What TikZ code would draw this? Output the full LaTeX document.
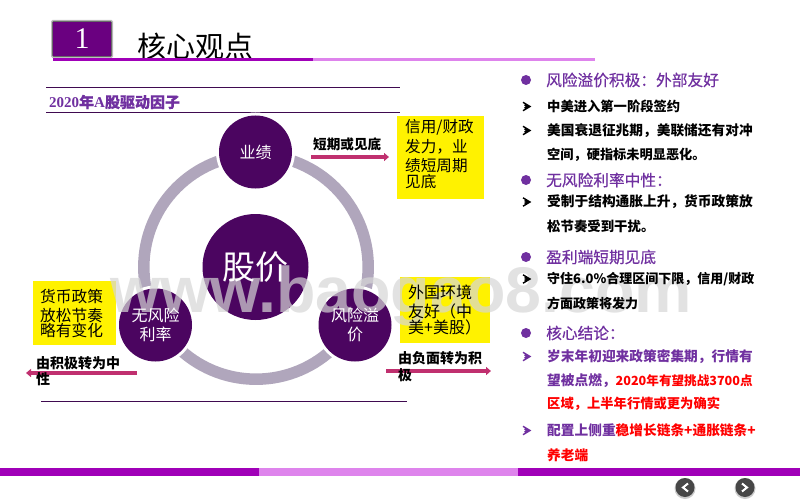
\documentclass[tikz,border=0pt]{standalone}
\usepackage{fontspec}
\setmainfont{Liberation Serif}
\newfontfamily\cjk{Noto Sans CJK SC}
\newfontfamily\cjkm[FakeBold=0.5]{Noto Sans CJK SC}
\newfontfamily\wmfont{Liberation Sans}
\usetikzlibrary{arrows.meta}
\newcommand{\fs}[1]{\fontsize{#1pt}{#1pt}\selectfont}
\definecolor{deep}{HTML}{4B0560}
\definecolor{titlep}{HTML}{6A0080}
\definecolor{barD}{HTML}{A000B8}
\definecolor{barL}{HTML}{DE84EC}
\definecolor{headp}{HTML}{7030A0}
\definecolor{ringc}{HTML}{B0A6BC}
\definecolor{arr}{HTML}{C0306F}
\definecolor{linec}{HTML}{3F0A50}
\definecolor{wmc}{HTML}{D6D6D6}
\tikzset{
  head/.style={anchor=west,inner sep=0pt,text=headp,font=\cjkm\fs{15.7}},
  body/.style={anchor=west,inner sep=0pt,text=black,font=\cjk\bfseries\fs{13.7}},
  bodyp/.style={body,text=headp},
  small/.style={anchor=west,inner sep=0pt,text=black,font=\cjk\bfseries\fs{13.6}},
  dot/.style={circle,fill=headp,inner sep=0pt,minimum size=10pt},
  chev/.style={draw=#1,line width=1.4pt,fill=none,line join=miter},
  ball/.style={circle,fill=deep,inner sep=0pt},
  balltext/.style={inner sep=0pt,text=white,align=center,font=\cjk\fs{16}},
  yel/.style={fill=yellow,inner sep=0pt},
  ytext/.style={anchor=north west,inner sep=0pt,align=left,text=black,font=\cjk\fs{15.7}},
  flow/.style={draw=arr,line width=3.2pt,-{Triangle[length=5pt,width=8pt]}},
  rule/.style={draw=linec,line width=0.8pt},
  navbtn/.style={circle,fill=black!72,inner sep=0pt,minimum size=19pt}
}
\newcommand{\chevron}[2]{\draw[chev=#1] (523,#2-4.2) -- (530,#2) -- (523,#2+4.2) (524.5,#2-1.5)--(527.5,#2)--(524.5,#2+1.5);}
\begin{document}
\begin{tikzpicture}[x=1pt,y=-1pt]
\useasboundingbox (0,0) rectangle (800,500);
\fill[white] (0,0) rectangle (800,500);
% title block
\foreach \d/\o in {2/.25,1/.45}{\fill[black,opacity=\o,rounded corners=1.5pt] (53-\d,22-\d) rectangle (111+\d,56+\d);}
\node[fill=titlep,minimum width=58pt,minimum height=34pt,inner sep=0pt,text=white,font=\fs{30}] (num) at (82,39) {\raisebox{-2pt}{1}};
\node[anchor=west,inner sep=0pt,text=black,font=\cjk\fs{29}] (ttl) at (137,46) {核心观点};
\fill[barD] (53,58) rectangle (312.5,61);
\fill[barL] (312.5,58) rectangle (595,61);
% section rules
\coordinate (r1a) at (46,87); \coordinate (r1b) at (400,87);
\coordinate (r2a) at (46,112); \coordinate (r2b) at (400,112);
\coordinate (r3a) at (41,401); \coordinate (r3b) at (407,401);
\draw[rule] (r1a)--(r1b); \draw[rule] (r2a)--(r2b); \draw[rule] (r3a)--(r3b);
\node[anchor=west,inner sep=0pt,text=headp,font=\bfseries\fs{15}] (sec) at (49,102) {2020{\cjkm 年}A{\cjkm 股驱动因子}};
% ring
\draw[ringc,line width=11.5pt] (256,267) circle (112.2);
% circles
\fill[white] (255.5,152) circle (39.5);
\fill[white] (155.5,325) circle (39.5);
\fill[white] (355,325) circle (39.5);
\node[ball,minimum size=73pt] (yj) at (255.5,152) {};
\node[ball,minimum size=106pt] (gj) at (255.5,267) {};
\node[ball,minimum size=73pt] (wf) at (155.5,325) {};
\node[ball,minimum size=73pt] (fx) at (355,325) {};
% yellow boxes
\node[yel,minimum width=87pt,minimum height=83pt] (y1) at (440.5,157.5) {};
\node[ytext,font=\cjk\fs{15.6},text width=80pt] (y1t) at (405,119) {\baselineskip=19.8pt 信用/财政\\发力，业\\绩短周期\\见底};
\node[yel,minimum width=83pt,minimum height=64pt] (y2) at (74.5,313) {};
\node[yel,minimum width=90pt,minimum height=66pt] (y3) at (445,310) {};
% arrows
\coordinate (a1s) at (311,157); \coordinate (a1e) at (389,157);
\coordinate (a2s) at (137,373); \coordinate (a2e) at (26,373);
\coordinate (a3s) at (386,371); \coordinate (a3e) at (491,371);
\draw[flow] (a1s)--(a1e); \draw[flow] (a2s)--(a2e); \draw[flow] (a3s)--(a3e);
\node[small] (l1) at (313,144.5) {短期或见底};
\node[small,font=\cjk\bfseries\fs{14}] (l2) at (36,363) {由积极转为中};
\node[small,font=\cjk\bfseries\fs{14}] (l2b) at (36,379) {性};
\node[small,font=\cjk\bfseries\fs{14}] (l3) at (398,358) {由负面转为积};
\node[small,font=\cjk\bfseries\fs{14}] (l3b) at (398,375) {极};
% right column
\node[dot] (d1) at (526,80) {}; \node[head] (h1) at (546,80) {风险溢价积极：外部友好};
\chevron{black}{106.5}
\node[body,font=\cjk\bfseries\fs{13.3}] (t1) at (547,106.5) {中美进入第一阶段签约};
\chevron{black}{130.5}
\node[body] (t2) at (547,130.5) {美国衰退征兆期，美联储还有对冲};
\node[body,font=\cjk\bfseries\fs{13.2}] (t3) at (547,154.5) {空间，硬指标未明显恶化。};
\node[dot] (d2) at (526,180) {}; \node[head] (h2) at (546,180) {无风险利率中性：};
\chevron{black}{202}
\node[body] (t4) at (547,202) {受制于结构通胀上升，货币政策放};
\node[body,font=\cjk\bfseries\fs{13.4}] (t5) at (547,226.5) {松节奏受到干扰。};
\node[dot] (d3) at (526,257) {}; \node[head] (h3) at (546,257) {盈利端短期见底};
\node[dot] (d4) at (526,333) {}; \node[head] (h4) at (546,333) {核心结论：};
\chevron{headp}{356.5}
\node[bodyp] (t8) at (547,356.5) {岁末年初迎来政策密集期，行情有};
\node[bodyp] (t9) at (547,380.5) {望被点燃，\textcolor{red}{\fs{12.6}2020年有望挑战3700点}};
\node[body,text=red,font=\cjk\bfseries\fs{13.3}] (t10) at (547,403.5) {区域，上半年行情或更为确实};
\chevron{headp}{430.5}
\node[bodyp] (t11) at (547,430.5) {配置上侧重\textcolor{red}{稳增长链条+通胀链条+}};
\node[body,text=red] (t12) at (547,455) {养老端};
% bottom bar
\fill[barD] (0,468) rectangle (259,476);
\fill[barL] (259,468) rectangle (518,476);
\fill[barD] (518,468) rectangle (800,476);
% nav buttons
\fill[black,opacity=.2] (685,488.5) circle (10.5); \fill[black,opacity=.2] (745,488.5) circle (10.5);
\node[navbtn] (nb1) at (685,487.5) {}; \node[navbtn] (nb2) at (745,487.5) {};
\draw[white,line width=2pt] (688,483.5)--(683,487.5)--(688,491.5);
\draw[white,line width=2pt] (742,483.5)--(747,487.5)--(742,491.5);
% watermark
\node[anchor=base,inner sep=0pt,text=wmc,opacity=.7,font=\wmfont\bfseries\fs{64.5}] (wm) at (401,312) {www.baogao8.com};
% texts that stay legible over the watermark
\node[balltext] (yjt) at (yj) {业绩};
\node[balltext,font=\cjk\fs{33}] (gjt) at (gj) {股价};
\node[balltext] (wft) at (wf) {无风险\\[3pt]利率};
\node[balltext] (fxt) at (fx) {风险溢\\[3pt]价};
\node[ytext,text width=75pt] (y2t) at (40,289) {\baselineskip=18.7pt 货币政策\\放松节奏\\略有变化};
\node[ytext,font=\cjk\fs{16},text width=85pt] (y3t) at (408,285) {\baselineskip=18.7pt 外国环境\\友好（中\\美+美股）};
\chevron{black}{279}
\node[body,font=\cjk\bfseries\fs{13}] (t6) at (547,279) {守住6.0\%合理区间下限，信用/财政};
\node[body,font=\cjk\bfseries\fs{13}] (t7) at (547,303) {方面政策将发力};
\end{tikzpicture}
\end{document}
